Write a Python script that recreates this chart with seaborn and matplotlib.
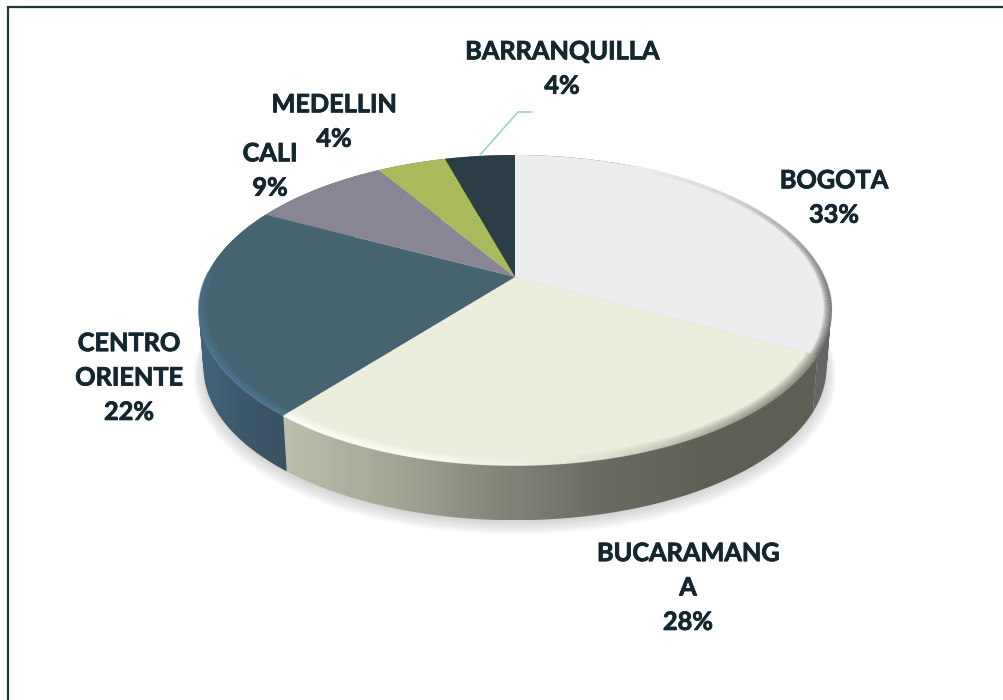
import numpy as np
import seaborn as sns
import matplotlib.pyplot as plt
import matplotlib.patheffects as pe
from matplotlib.collections import LineCollection
from matplotlib.colors import LinearSegmentedColormap
from matplotlib.path import Path
from matplotlib.transforms import Transform

sns.set_theme(style="white")
plt.rcParams["font.family"] = ["Lato", "DejaVu Sans"]

cities = ["BOGOTA", "BUCARAMANG\nA", "CENTRO\nORIENTE", "CALI", "MEDELLIN", "BARRANQUILLA"]
shares = [32.9, 27.85, 21.9, 8.6, 4.35, 4.4]
face_colors = ["#ecedef", "#ebeedc", "#456371", "#888694", "#a8ba5c", "#2b3e47"]
wall_colors = [
    ["#5e5f55", "#666668", "#666668"],
    ["#bdbfad", "#a5a796", "#85867a", "#6b6c61", "#5e5f55", "#5e5f55"],
    ["#42657c", "#3c586a", "#3a5262"],
    ["#666668", "#666668"],
    ["#666668", "#666668"],
    ["#666668", "#666668"],
]
label_xy = [(834, 198), (688, 588), (129, 378), (270, 171), (334, 122), (562, 69)]
text_color = "#14262e"

CX, CY, A, B, K = 515, 277, 309, 148, 0.2129


def tilt(x, y, drop=0, scale=1):
    d = 1 + K * y
    return CX + scale * A * x / d, CY + drop - scale * B * y / d


class Tilt(Transform):
    input_dims = 2
    output_dims = 2
    is_separable = False
    has_inverse = False

    def transform_non_affine(self, values):
        px, py = tilt(values[:, 0], values[:, 1])
        return np.column_stack([px, py])


fig = plt.figure(figsize=(10.04, 7), dpi=100)
ax = fig.add_axes([0, 0, 1, 1])
wedges, _ = ax.pie(shares, colors=sns.color_palette(face_colors), startangle=90,
                   counterclock=False, radius=1, wedgeprops={"linewidth": 0, "edgecolor": "none"})
ax.set_aspect("auto")
ax.axis("off")

for w in wedges:
    w.set_transform(Tilt() + ax.transData)
    w.set_zorder(5)

# soft shadow under the disc
t = np.radians(np.linspace(0, 360, 361))
for i in range(12):
    sx, sy = tilt(np.cos(t), np.sin(t), drop=60 + i * 0.6, scale=0.985 + i * 0.0028)
    ax.fill(sx, sy, color="#555555", alpha=0.018, lw=0, zorder=1)

# side walls, shaded by x, clipped to a strip of small quads
for w, cols in zip(wedges, wall_colors):
    th = np.radians(np.linspace(w.theta1, w.theta2, 200))
    tx, ty = tilt(np.cos(th), np.sin(th))
    bx, by = tilt(np.cos(th), np.sin(th), drop=58, scale=0.985)
    quads = []
    for i in range(len(th) - 1):
        q = np.array([[tx[i], ty[i]], [tx[i + 1], ty[i + 1]], [bx[i + 1], by[i + 1]], [bx[i], by[i]]])
        area = np.sum(q[:, 0] * np.roll(q[:, 1], -1) - np.roll(q[:, 0], -1) * q[:, 1])
        if area < 0:
            q = q[::-1]
        quads.append(Path(np.vstack([q, q[0]]), closed=True))
    strip = Path.make_compound_path(*quads)
    cmap = LinearSegmentedColormap.from_list("wall", cols)
    xs = np.r_[tx, bx]
    ys = np.r_[ty, by]
    im = ax.imshow(np.linspace(0, 1, 256)[None, :], cmap=cmap, aspect="auto",
                   extent=(xs.min(), xs.max(), ys.max(), ys.min()), zorder=2)
    im.set_clip_path(strip, ax.transData)
ax.set_xlim(0, 1004)
ax.set_ylim(700, 0)


# rounded edge of the disc
def bevel(theta1, theta2, colors, alphas, inset):
    cmap = LinearSegmentedColormap.from_list("bevel", colors)
    th = np.radians(np.linspace(theta1, theta2, 160))
    radii = np.linspace(1.0, 1 - inset, 9)
    for r, al in zip(radii, np.linspace(alphas[0], alphas[1], 9)):
        px, py = tilt(r * np.cos(th), r * np.sin(th))
        seg = np.stack([np.column_stack([px[:-1], py[:-1]]), np.column_stack([px[1:], py[1:]])], axis=1)
        rgba = np.array(cmap(np.linspace(0, 1, len(seg))))
        rgba[:, 3] *= al
        ax.add_collection(LineCollection(seg, colors=rgba, linewidths=1.2, zorder=6))


bevel(wedges[1].theta1, wedges[1].theta2,
      ["#fffff8", "#fdfdf4", "#e4e5d4", "#9a9b8e", "#6f7065"], (0.9, 0.0), 0.035)
bevel(wedges[0].theta1, 62, ["#6a6a6c", "#77777a", "#a8a8aa", "#d8d8da", "#ecedef"], (0.9, 0.0), 0.025)
bevel(-182, wedges[2].theta2, ["#4a7089", "#4f7c99", "#4f7c99"], (0.7, 0.0), 0.03)

ax.plot([480, 518, 532], [155, 112, 112], color="#9fd0dc", lw=1.2, zorder=7)

# frame only shows on the left and top
ax.plot([8, 8, 1004], [700, 7, 7], color="#1f3a3f", lw=1.6, zorder=7,
        solid_joinstyle="miter")

for city, share, (lx, ly) in zip(cities, shares, label_xy):
    ax.text(lx, ly, f"{city}\n{share:.0f}%", ha="center", va="center", ma="center",
            fontsize=18.2, fontweight="bold", color=text_color, linespacing=1.6, zorder=8,
            path_effects=[pe.withStroke(linewidth=0.6, foreground=text_color)])

fig.savefig("out.png", dpi=100)
